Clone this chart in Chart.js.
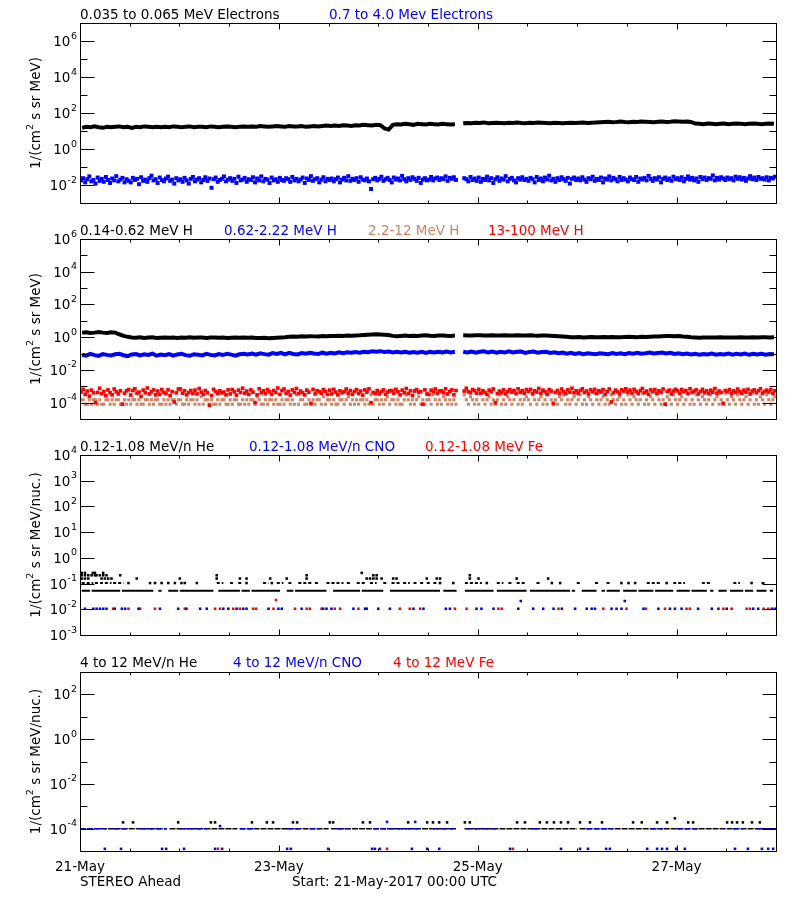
<!DOCTYPE html>
<html>
<head>
<meta charset="utf-8">
<title>STEREO Ahead - particle fluxes</title>
<script src="https://cdn.jsdelivr.net/npm/chart.js@4.4.1/dist/chart.umd.min.js"></script>
<style>
  html, body { margin: 0; padding: 0; background: #fff; }
  #wrap { position: relative; width: 800px; height: 900px; }
  #wrap canvas { position: absolute; left: 0; top: 0; }
</style>
</head>
<body>
<div id="wrap">
  <canvas id="p1" width="800" height="900"></canvas>
  <canvas id="p2" width="800" height="900"></canvas>
  <canvas id="p3" width="800" height="900"></canvas>
  <canvas id="p4" width="800" height="900"></canvas>
</div>
<script>
// time axis: hours since 21-May-2017 00:00 UTC (7 days)
const dayLabels = ['21-May', '23-May', '25-May', '27-May'];
const dayLabelHours = [0, 48, 96, 144];

// ---- panel 1: electrons ----
// hourly samples (hour 91 = data gap)
const eLow = [ // 0.035 to 0.065 MeV
  15,17,16,18,16,15,17,16,17,18,16,17,15,17,16,18,17,16,17,16,
  17,16,18,17,16,17,18,16,17,17,16,18,17,16,17,18,17,16,17,18,
  17,18,17,19,18,17,18,19,18,17,19,18,18,19,17,18,19,18,19,20,
  19,20,19,21,20,19,21,20,22,21,20,22,21,14,12,
  22,24,23,25,24,22,25,24,23,25,24,23,25,24,23,24, null,
  27,28,27,29,28,30,27,28,29,28,27,29,28,30,28,27,29,28,30,29,28,27,29,28,27,28,29,28,29,30,28,29,30,
  31,32,33,31,32,34,32,31,33,32,34,33,32,31,33,34,32,33,35,34,33,34,32,
  26,25,24,26,25,24,25,26,24,25,26,25,24,25,26,25,24,25,26,25
];
// half-hourly samples, 24 per row (12 h); nulls = data gap
const eHigh = [ // 0.7 to 4.0 MeV, x1e-3
  18,24,14,21,30,16,19,12,26,17,22,15,28,19,13,23,18,31,16,20,25,14,21,17,
  14,25,19,22,11,27,17,20,15,24,33,18,21,13,26,19,16,23,29,17,20,12,24,18,
  21,15,25,18,12,22,28,16,20,24,14,19,27,17,23,7,21,26,15,19,22,30,16,20,
  24,17,22,13,29,18,20,25,15,21,19,27,14,23,18,30,16,22,20,13,26,18,21,15,
  25,19,17,24,21,15,28,18,22,16,20,26,13,23,19,31,17,21,24,14,20,27,16,22,
  19,23,16,21,26,14,20,25,18,31,17,22,19,24,15,27,20,18,23,16,6,21,25,18,
  22,29,17,21,25,19,14,26,20,23,18,32,21,16,24,19,27,22,17,25,13,20,24,18,
  20,28,18,23,26,19,24,21,30,17,25,22,27,19,null,null,null,24,21,16,28,19,23,17,
  26,15,22,19,29,18,24,13,21,27,17,23,20,31,16,22,25,18,14,24,20,27,19,22,
  17,25,21,14,28,19,23,16,26,20,33,18,22,15,24,19,27,21,17,25,12,22,26,19,
  23,18,27,20,15,24,21,29,17,22,19,26,14,23,20,30,18,25,21,16,28,19,24,20,
  16,26,21,19,28,15,23,20,25,18,32,22,17,24,20,27,14,22,26,19,23,17,29,21,
  24,19,27,16,22,30,20,25,18,23,15,28,21,26,19,24,22,34,18,25,20,27,23,19,
  26,21,24,18,29,22,27,20,25,17,23,31,21,26,19,28,22,24,20,27,18,25,23,29
];

// ---- panel 2: protons ----
const hLow = [ // 0.14-0.62 MeV, hourly
  1.9,2.0,1.8,1.9,2.1,1.9,1.8,2.0,1.9, 1.5,1.2,1.05,
  0.95,0.92,1.0,0.9,0.95,0.98,0.9,0.93,0.97,0.92,0.95,0.9,0.96,0.93,0.98,0.92,0.95,0.97,0.9,0.94,
  0.96,0.92,0.95,0.9,0.93,0.97,0.91,0.95,0.92,0.96,0.9,0.88,0.92,0.87,0.9,0.93,0.95,0.98,
  1.05,1.1,1.08,1.12,1.1,1.15,1.12,1.1,1.18,1.15,1.2,1.17,1.22,1.2,1.25,1.22,1.28,1.3,1.35,1.4,1.45,1.5,1.48,1.42,1.35,
  1.2,1.15,1.2,1.25,1.18,1.22,1.2,1.25,1.3,1.22,1.2,1.25,1.28,1.22,1.2,1.25, null,
  1.3,1.28,1.25,1.3,1.32,1.28,1.25,1.3,1.27,1.25,1.3,1.28,1.26,1.3,1.25,1.28,1.3,1.26,1.24,1.28,1.25,1.22,1.2,1.15,1.1,1.05,
  1.0,0.98,1.02,0.97,1.0,1.03,0.98,1.0,1.02,0.99,1.03,1.0,0.98,1.02,1.05,1.03,1.0,1.05,1.02,1.08,1.1,1.12,1.15,1.18,1.2,
  1.15,1.18,1.1,1.05,0.98,0.95,0.93,0.95,0.97,0.94,0.96,0.98,0.95,0.97,0.94,0.96,0.98,0.95,0.97,0.99,0.96,0.98,1.0,0.97,0.99
];
const hMid = [ // 0.62-2.22 MeV, hourly
  0.085,0.075,0.095,0.08,0.072,0.092,0.083,0.076,0.09,0.097,0.079,0.07,0.088,0.094,0.077,0.09,0.082,0.098,0.074,0.087,
  0.079,0.093,0.074,0.088,0.096,0.08,0.073,0.091,0.085,0.077,0.095,0.083,0.076,0.092,0.081,0.097,0.086,0.075,0.09,0.098,
  0.088,0.1,0.085,0.104,0.092,0.086,0.106,0.094,0.109,0.09,0.11,0.095,0.089,0.108,0.097,0.112,0.1,0.093,0.113,0.099,
  0.11,0.1,0.118,0.106,0.121,0.112,0.125,0.114,0.13,0.122,0.137,0.128,0.14,0.126,0.133,0.118,0.127,0.116,0.128,0.112,
  0.124,0.113,0.128,0.11,0.126,0.117,0.13,0.115,0.132,0.118,0.127, null,
  0.13,0.117,0.134,0.114,0.128,0.136,0.115,0.131,0.112,0.129,0.118,0.135,0.116,0.127,0.132,0.11,0.126,0.133,0.114,0.124,
  0.127,0.109,0.12,0.104,0.116,0.099,0.11,0.095,0.106,0.092,0.104,0.096,0.09,0.105,0.098,0.091,0.106,0.094,0.103,0.092,
  0.108,0.097,0.112,0.099,0.105,0.114,0.1,0.109,0.116,0.101,0.11,0.095,0.104,0.09,0.099,0.088,0.097,0.086,0.094,0.087,
  0.099,0.086,0.095,0.088,0.1,0.085,0.096,0.089,0.101,0.084,0.097,0.087,0.098,0.085,0.093,0.09
];
const hTan = [ // 2.2-12 MeV, x1e-4, half-hourly
  1.5,1.5,0.8,0.8,1.5,0.8,1.5,1.5,0.8,1.5,0.8,0.8,1.5,1.5,0.8,1.5,0.8,1.5,1.5,0.8,0.8,1.5,0.8,1.5,
  0.8,1.5,1.5,0.8,1.5,0.8,0.8,1.5,1.5,0.8,1.5,0.8,1.5,1.5,0.8,0.8,1.5,0.8,1.5,0.8,1.5,1.5,0.8,1.5,
  1.5,0.8,0.8,1.5,0.8,1.5,1.5,0.8,1.5,0.8,2.3,0.8,1.5,1.5,0.8,1.5,0.8,0.8,1.5,0.8,1.5,1.5,0.8,0.8,
  1.5,0.8,1.5,1.5,0.8,0.8,1.5,0.8,1.5,0.8,1.5,1.5,0.8,2.3,1.5,0.8,0.8,1.5,0.8,1.5,1.5,0.8,1.5,0.8,
  0.8,1.5,0.8,1.5,1.5,0.8,1.5,0.8,3.0,0.8,1.5,1.5,0.8,0.8,1.5,0.8,1.5,0.8,1.5,1.5,0.8,2.3,0.8,1.5,
  1.5,0.8,1.5,0.8,0.8,1.5,1.5,0.8,1.5,2.3,0.8,1.5,0.8,1.5,0.8,1.5,1.5,0.8,1.5,0.8,3.0,0.8,1.5,1.5,
  0.8,1.5,0.8,1.5,2.3,0.8,1.5,1.5,0.8,1.5,0.8,0.8,1.5,3.0,1.5,0.8,1.5,0.8,1.5,2.3,0.8,1.5,0.8,1.5,
  1.5,0.8,3.0,1.5,0.8,1.5,0.8,2.3,1.5,0.8,1.5,0.8,1.5,0.8,null,null,null,3.0,1.5,0.8,2.3,1.5,0.8,1.5,
  0.8,3.8,1.5,0.8,1.5,2.3,0.8,1.5,0.8,1.5,3.0,0.8,1.5,0.8,2.3,1.5,0.8,1.5,3.8,0.8,1.5,0.8,1.5,2.3,
  1.5,0.8,3.0,1.5,0.8,1.5,2.3,0.8,1.5,0.8,3.8,1.5,0.8,1.5,0.8,2.3,1.5,3.0,0.8,1.5,0.8,1.5,2.3,0.8,
  1.5,3.0,0.8,1.5,0.8,2.3,1.5,0.8,3.8,1.5,0.8,1.5,2.3,0.8,1.5,0.8,3.0,1.5,0.8,1.5,2.3,0.8,1.5,0.8,
  3.0,1.5,0.8,2.3,1.5,0.8,1.5,3.8,0.8,1.5,0.8,2.3,1.5,0.8,3.0,1.5,0.8,1.5,0.8,2.3,1.5,0.8,3.0,1.5,
  0.8,1.5,2.3,0.8,1.5,3.8,0.8,1.5,0.8,3.0,1.5,0.8,2.3,1.5,0.8,1.5,3.0,0.8,1.5,2.3,0.8,1.5,0.8,3.8,
  1.5,0.8,2.3,1.5,0.8,3.0,1.5,0.8,1.5,2.3,0.8,1.5,3.8,0.8,1.5,0.8,2.3,1.5,0.8,3.0,1.5,0.8,1.5,2.3
];
const hHigh = [ // 13-100 MeV, x1e-4, half-hourly
  4.4,6.5,3.2,5.1,2.5,5.8,4.0,1.0,4.2,7.6,3.6,4.8,2.7,6.0,4.0,3.0,6.8,4.6,3.4,5.3,0.8,3.8,5.3,6.3,
  2.9,5.5,7.0,3.8,4.4,2.4,5.8,4.0,7.8,3.4,4.6,6.0,3.0,5.1,3.2,6.3,4.2,3.6,6.0,2.7,4.8,1.1,4.0,6.8,
  6.8,3.8,5.3,3.0,4.2,5.5,3.6,5.8,3.4,7.3,4.4,3.2,5.5,4.0,0.7,2.7,6.5,4.8,3.6,5.3,4.0,4.4,3.0,6.0,
  3.4,6.3,4.6,2.9,5.8,4.2,7.6,3.8,5.1,3.2,6.0,4.4,1.0,3.0,7.0,4.0,5.3,3.6,6.3,4.6,3.2,5.5,4.2,7.8,
  3.2,5.5,6.8,3.8,4.8,2.9,6.0,4.2,7.3,3.6,5.1,4.0,3.0,5.8,4.4,0.9,6.5,3.4,5.3,4.6,3.8,6.3,4.8,3.2,
  5.8,3.4,6.5,4.4,3.0,5.3,4.0,4.6,6.8,3.8,5.5,3.2,4.8,6.3,3.6,5.1,2.9,6.0,4.4,7.0,1.0,4.2,3.6,5.5,
  3.4,4.8,6.0,3.2,4.4,5.3,5.5,3.8,6.5,4.6,3.0,5.8,4.0,7.3,3.6,5.3,2.7,5.1,6.3,4.2,4.8,0.8,6.0,3.4,
  3.2,5.8,4.6,6.8,3.8,5.1,5.3,4.0,7.0,3.4,4.8,6.0,3.0,5.5,null,null,null,5.1,7.6,4.6,4.0,6.3,5.3,3.8,
  6.5,3.8,5.3,4.2,3.2,5.8,4.6,6.8,1.0,3.6,5.1,4.0,6.0,3.4,4.8,6.3,4.4,5.5,3.6,7.0,4.2,5.3,3.8,6.3,
  4.8,6.5,3.6,5.3,4.4,7.3,3.8,5.8,4.6,3.2,6.3,5.1,0.9,4.2,5.5,3.8,6.8,4.8,3.6,6.0,4.4,7.6,4.0,5.3,
  3.8,5.5,7.0,4.2,5.1,3.4,6.0,4.6,6.5,3.6,5.3,4.4,6.3,3.2,4.8,6.8,1.1,4.0,5.8,4.6,3.4,6.0,5.1,7.0,
  4.4,5.8,3.8,6.5,4.8,3.6,5.5,7.3,4.0,5.1,3.2,6.0,4.6,6.3,3.8,5.3,4.2,6.8,0.8,4.8,5.8,3.4,5.1,6.5,
  5.3,3.8,6.3,4.6,5.5,3.6,7.0,4.2,5.1,6.0,3.4,4.8,6.5,4.0,5.3,3.6,5.8,4.4,7.3,3.8,5.1,4.2,0.9,5.5,
  4.6,6.3,3.6,5.3,4.2,6.8,4.8,3.8,5.8,4.4,6.5,3.4,5.1,6.0,4.0,5.3,7.0,3.8,4.8,5.8,4.4,6.3,3.6,5.3
];

// ---- panel 3: 0.12-1.08 MeV/n heavy ions (count-quantized levels) ----
const he1Level = 0.052, he2Level = 0.105, he3Level = 0.157, he4Level = 0.21, he5Level = 0.26;
const he1Spans = [[0.4,2.4],[2.8,9.7],[10.1,17.7],[18.9,19.7],[21.3,23.7],[24.1,32.2],[33.4,38.6],[39.0,41.0],
  [41.4,48.3],[49.9,51.5],[51.9,59.5],[61.1,67.6],[68.0,73.2],[74.8,86.9],[87.7,90.9],[92.9,99.8],[100.6,107.8],
  [108.6,118.3],[118.7,119.5],[121.1,124.7],[125.9,126.7],[127.1,130.3],[131.1,134.4],[134.8,138.4],[138.8,143.2],
  [144.0,147.2],[147.6,151.3],[152.1,152.9],[154.1,156.1],[156.9,160.1],[160.5,162.5],[163.3,165.7],[166.5,167.3]];
const he2Spans = [[0.4,3.2],[3.6,5.6],[6.0,7.6],[8.0,10.5],[33.0,34.6],[36.2,37.0],[38.2,39.4],[44.2,45.5],
  [47.5,49.1],[50.3,51.5],[52.7,54.7],[55.1,56.3],[56.7,57.5],[59.5,63.6],[64.4,65.6],[66.8,69.2],[70.0,71.6],
  [73.2,74.4],[75.2,77.2],[78.0,79.6],[80.5,81.3],[82.1,82.9],[83.7,84.5],[85.3,86.1],[92.9,97.0],[100.6,102.2],
  [103.4,104.2],[105.4,107.8],[110.2,111.4],[119.9,120.7],[124.3,125.5],[127.1,127.9],[136.8,140.0],[143.2,146.0],
  [150.1,152.1],[157.7,159.3],[164.5,165.3]];
const he2Times = [11.7,16.9,18.1,19.7,21.3,22.9,24.5,25.3,28.2,40.2,46.3,86.9,90.1,98.2,113.9,115.9,130.7,132.4,134.0,141.6,162.1];
const he3Times = [0.4,1.2,2.0,5.2,6.0,6.8,7.6,13.7,24.1,33.0,38.6,40.2,45.9,49.9,54.7,69.2,70.0,70.8,71.6,72.8,75.6,76.4,83.7,86.1,86.9,94.1,96.2,105.4,113.0];
const he4Times = [0.4,1.2,2.0,2.8,3.6,4.0,4.8,5.6,6.4,9.7,33.0,54.7,70.8,71.6,94.1];
const he5Times = [0.4,1.2,3.1,3.6,5.6,68.0];
const cnoLevel = 0.0105, cnoHiLevel = 0.021;
const cnoTimes = [1.2,3.2,4.0,4.8,5.6,6.4,8.4,10.1,10.9,14.1,19.3,23.7,25.7,29.0,30.6,34.6,35.8,37.8,39.4,40.2,45.5,47.9,48.7,
  53.5,58.7,59.5,60.7,66.0,68.8,69.2,72.0,74.8,80.5,82.9,88.3,89.3,95.7,96.9,99.8,105.8,109.4,111.8,114.3,116.3,119.5,122.3,
  123.5,124.3,128.3,129.5,130.7,136.0,139.6,142.4,143.6,145.2,149.2,152.5,154.1,156.1,162.5,163.7,167.0,167.7];
const cnoHiTimes = [106.4,131.5];
const feLevel = 0.0105, feHiLevel = 0.023;
const feTimes = [8.0,11.7,14.5,18.1,25.3,32.6,33.8,37.0,38.6,41.8,42.5,46.7,51.9,54.7,55.5,58.3,61.5,62.8,67.2,77.2,79.6,82.1,
  90.5,93.3,101.0,101.8,115.5,126.3,131.9,136.6,141.2,146.4,147.2,155.3,157.3,160.9,161.7,165.0,166.1];
const feHiTimes = [47.3];

// ---- panel 4: 4 to 12 MeV/n ----
const hhLineLevel = 1e-4, hhDotLevel = 1.9e-4, hhTopLevel = 2.9e-4;
const hhLineSpans = [[0,4.5],[5.0,21.0],[21.6,38.0],[38.5,60.0],[60.6,90.8],[92.8,120.0],[120.6,168]];
const hhDotTimes = [10.4,12.8,23.7,31.6,32.6,41.5,45.1,46.6,51.4,52.4,60.3,61.1,68.3,70.0,79.2,83.8,85.2,86.7,88.6,92.9,94.1,
  105.5,107.4,111.0,112.7,114.4,116.1,117.8,120.7,123.1,126.0,133.5,135.6,139.3,141.7,146.8,148.0,156.2,157.4,158.6,160.0,162.2,164.1];
const hhTopTimes = [143.6];
const hcLineSpans = [[0,6.4],[8.0,11.3],[14.5,20.9],[24.1,30.6],[38.6,41.8],[49.9,53.1],[55.5,57.9],[61.9,64.4],[70.8,82.1],
  [85.2,90.0],[93.4,100.6],[109.1,111.1],[122.2,128.6],[137.9,140.7],[144.0,149.6],[157.6,160.0],[163.4,168]];
const hcLowLevel = 1.25e-5, hcMidLevel = 2e-4, hcNearLevel = 1.3e-4;
const hcLowTimes = [6.0,9.9,19.8,20.8,25.1,32.6,34.3,50.0,50.9,59.9,70.5,71.2,72.4,80.1,83.8,86.7,103.8,116.1,120.7,122.6,127.0,
  127.9,136.9,139.3,140.5,141.7,143.9,146.0,158.1,161.2,164.6,166.1,167.3];
const hcMidTimes = [74.1,80.9];
const hcNearTimes = [33.8];
const hfLowLevel = 1.25e-5;
const hfLowTimes = [33.3,74.1,104.5];

// ---------------------------------------------------------------
const FONT = '13.5px "DejaVu Sans"';
const SUP = '9.5px "DejaVu Sans"';
const BLUE = '#0000ff', RED = '#ff0000', TAN = '#cd8566', BLACK = '#000000';

function sampled(vals, k, step) {
  return vals.map((v, i) => ({ x: (i + 0.5) * step, y: v === null ? null : v * k }));
}
function spans(list, level) {
  const out = [];
  list.forEach(([a, b]) => out.push({ x: a, y: level }, { x: b, y: level }, { x: b, y: null }));
  return out;
}
function dots(times, level) {
  return times.map(t => ({ x: t, y: level }));
}
function lineSet(data, color, w, dash) {
  return { data, borderColor: color, backgroundColor: color, borderWidth: w, borderDash: dash || [],
    pointRadius: 0, showLine: true, spanGaps: false, tension: 0, fill: false };
}
function dotSet(data, color, r) {
  return { data, showLine: false, pointStyle: 'rect', pointRadius: r, pointBackgroundColor: color,
    pointBorderWidth: 0, borderColor: color, backgroundColor: color };
}

function drawPow(ctx, e, right, y) {
  const ex = String(e);
  ctx.font = SUP;
  const we = ctx.measureText(ex).width;
  ctx.font = FONT;
  const wb = ctx.measureText('10').width;
  ctx.fillText('10', right - we - wb - 0.5, y + 5);
  ctx.font = SUP;
  ctx.fillText(ex, right - we, y - 2.5);
}

function drawYTitle(ctx, cx, cy, unit) {
  const pre = '1/(cm', sup = '2', post = ' s sr ' + unit + ')';
  ctx.save();
  ctx.translate(cx, cy);
  ctx.rotate(-Math.PI / 2);
  ctx.font = FONT;
  const w1 = ctx.measureText(pre).width, w3 = ctx.measureText(post).width;
  ctx.font = SUP;
  const w2 = ctx.measureText(sup).width;
  const x0 = -(w1 + w2 + w3) / 2;
  ctx.font = FONT; ctx.fillText(pre, x0, 0);
  ctx.font = SUP; ctx.fillText(sup, x0 + w1, -7);
  ctx.font = FONT; ctx.fillText(post, x0 + w1 + w2, 0);
  ctx.restore();
}

// IDL-style frame: inward ticks on all four sides, labels, titles
function framePlugin(p) {
  return {
    id: 'idlFrame',
    afterDatasetsDraw(chart) {
      const { ctx, chartArea: a, scales: { x, y } } = chart;
      const L = Math.round(a.left) + 0.5, R = Math.round(a.right) + 0.5;
      const T = Math.round(a.top) + 0.5, B = Math.round(a.bottom) + 0.5;
      ctx.save();
      ctx.strokeStyle = BLACK; ctx.fillStyle = BLACK; ctx.lineWidth = 1;
      ctx.textAlign = 'left'; ctx.textBaseline = 'alphabetic';
      ctx.strokeRect(L, T, R - L, B - T);

      ctx.beginPath();
      const e0 = Math.round(Math.log10(y.min)), e1 = Math.round(Math.log10(y.max));
      for (let e = e0; e <= e1; e++) {
        const py = Math.round(y.getPixelForValue(Math.pow(10, e))) + 0.5;
        const major = p.everyDecade || e % 2 === 0;
        const len = major ? 14 : 7;
        ctx.moveTo(L, py); ctx.lineTo(L + len, py);
        ctx.moveTo(R, py); ctx.lineTo(R - len, py);
      }
      for (let h = 0; h <= 168; h += 12) {
        const px = Math.round(x.getPixelForValue(h)) + 0.5;
        const len = h % 48 === 0 ? 6 : 3;
        ctx.moveTo(px, B); ctx.lineTo(px, B - len);
        ctx.moveTo(px, T); ctx.lineTo(px, T + len);
      }
      ctx.stroke();

      for (let e = e0; e <= e1; e++) {
        if (!(p.everyDecade || e % 2 === 0)) continue;
        drawPow(ctx, e, 77, y.getPixelForValue(Math.pow(10, e)));
      }

      ctx.font = FONT;
      p.titles.forEach(t => {
        ctx.fillStyle = t.color;
        ctx.fillText(t.text, t.x, p.titleY);
      });
      ctx.fillStyle = BLACK;
      drawYTitle(ctx, 40, (a.top + a.bottom) / 2, p.unit);

      if (p.footer) {
        ctx.font = FONT;
        ctx.textAlign = 'center';
        dayLabels.forEach((lab, i) => ctx.fillText(lab, x.getPixelForValue(dayLabelHours[i]), 871));
        ctx.textAlign = 'left';
        ctx.fillText('STEREO Ahead', 80, 886);
        ctx.fillText('Start: 21-May-2017 00:00 UTC', 292, 886);
      }
      ctx.restore();
    }
  };
}

function makePanel(id, p) {
  return new Chart(document.getElementById(id), {
    type: 'line',
    data: { datasets: p.datasets },
    options: {
      responsive: false,
      animation: false,
      devicePixelRatio: 1,
      events: [],
      layout: { padding: { left: 80, right: 24, top: p.top, bottom: 900 - p.bottom } },
      scales: {
        x: { type: 'linear', min: 0, max: 168, display: false },
        y: { type: 'logarithmic', min: p.yMin, max: p.yMax, display: false }
      },
      plugins: { legend: { display: false }, tooltip: { enabled: false } }
    },
    plugins: [framePlugin(p)]
  });
}

makePanel('p1', {
  top: 23, bottom: 203, yMin: 1e-3, yMax: 1e7, titleY: 18.5, unit: 'MeV',
  titles: [
    { text: '0.035 to 0.065 MeV Electrons', color: BLACK, x: 80 },
    { text: '0.7 to 4.0 Mev Electrons', color: BLUE, x: 329 }
  ],
  datasets: [
    lineSet(sampled(eLow, 1, 1), BLACK, 4),
    dotSet(sampled(eHigh, 1e-3, 0.5), BLUE, 2.8)
  ]
});

makePanel('p2', {
  top: 239, bottom: 419, yMin: 1e-5, yMax: 1e6, titleY: 234.5, unit: 'MeV',
  titles: [
    { text: '0.14-0.62 MeV H', color: BLACK, x: 80 },
    { text: '0.62-2.22 MeV H', color: BLUE, x: 224 },
    { text: '2.2-12 MeV H', color: TAN, x: 368 },
    { text: '13-100 MeV H', color: RED, x: 488 }
  ],
  datasets: [
    lineSet(sampled(hLow, 1, 1), BLACK, 4),
    lineSet(sampled(hMid, 1, 1), BLUE, 4),
    dotSet(sampled(hHigh, 1e-4, 0.5), RED, 2.6),
    dotSet(sampled(hTan, 1e-4, 0.5), TAN, 2.2)
  ]
});

makePanel('p3', {
  top: 455, bottom: 635, yMin: 1e-3, yMax: 1e4, titleY: 450.5, unit: 'MeV/nuc.', everyDecade: true,
  titles: [
    { text: '0.12-1.08 MeV/n He', color: BLACK, x: 80 },
    { text: '0.12-1.08 MeV/n CNO', color: BLUE, x: 249 },
    { text: '0.12-1.08 MeV Fe', color: RED, x: 425 }
  ],
  datasets: [
    dotSet(dots(cnoTimes, cnoLevel), BLUE, 1.8),
    dotSet(dots(cnoHiTimes, cnoHiLevel), BLUE, 1.8),
    dotSet(dots(feTimes, feLevel), RED, 1.8),
    dotSet(dots(feHiTimes, feHiLevel), RED, 1.8),
    lineSet(spans(he1Spans, he1Level), BLACK, 2),
    lineSet(spans(he2Spans, he2Level), BLACK, 2, [3, 2]),
    dotSet(dots(he2Times, he2Level), BLACK, 1.8),
    dotSet(dots(he3Times, he3Level), BLACK, 1.8),
    dotSet(dots(he4Times, he4Level), BLACK, 1.8),
    dotSet(dots(he5Times, he5Level), BLACK, 1.8)
  ]
});

makePanel('p4', {
  top: 672, bottom: 851, yMin: 1e-5, yMax: 1e3, titleY: 666.5, unit: 'MeV/nuc.', footer: true,
  titles: [
    { text: '4 to 12 MeV/n He', color: BLACK, x: 80 },
    { text: '4 to 12 MeV/n CNO', color: BLUE, x: 233 },
    { text: '4 to 12 MeV Fe', color: RED, x: 393 }
  ],
  datasets: [
    dotSet(dots(hfLowTimes, hfLowLevel), RED, 1.8),
    dotSet(dots(hcLowTimes, hcLowLevel), BLUE, 1.8),
    dotSet(dots(hcMidTimes, hcMidLevel), BLUE, 1.8),
    dotSet(dots(hcNearTimes, hcNearLevel), BLUE, 1.8),
    lineSet(spans(hcLineSpans, hhLineLevel), BLUE, 1.5, [5, 3]),
    lineSet(spans(hhLineSpans, hhLineLevel), BLACK, 1.5, [6, 1]),
    dotSet(dots(hhDotTimes, hhDotLevel), BLACK, 1.8),
    dotSet(dots(hhTopTimes, hhTopLevel), BLACK, 1.8)
  ]
});
</script>
</body>
</html>
